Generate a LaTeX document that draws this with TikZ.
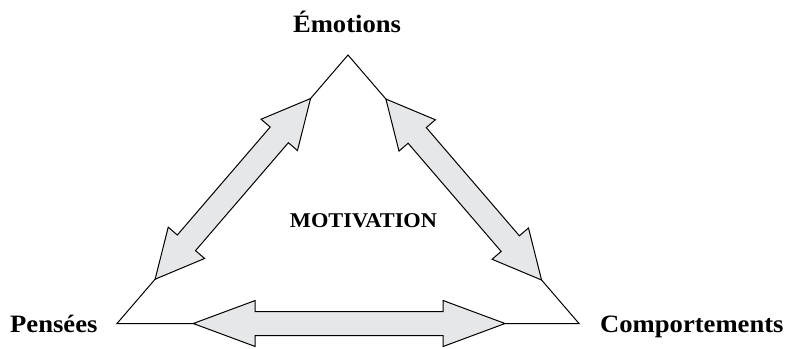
\documentclass[tikz,border=0pt]{standalone}
\usepackage{fontspec}
\setmainfont{Liberation Serif}[FakeStretch=1.065]
\usetikzlibrary{calc}
\definecolor{grisclair}{RGB}{230,231,232}
\tikzset{
  fleche/.style={draw=black, fill=grisclair, line width=1pt, line join=miter},
  sommet/.style={font=\fontsize{25}{30}\selectfont\bfseries, inner sep=0pt, anchor=base},
}
% double fleche: pointes #1 et #2, longueur tete #3, demi-largeur tete #4, demi-largeur corps #5
\newcommand{\dblfleche}[5]{%
  \draw[fleche] (#1)
    -- ($(#1)!#3!(#2)!#4!90:(#2)$) -- ($(#1)!#3!(#2)!#5!90:(#2)$)
    -- ($(#2)!#3!(#1)!#5!-90:(#1)$) -- ($(#2)!#3!(#1)!#4!-90:(#1)$)
    -- (#2)
    -- ($(#2)!#3!(#1)!#4!90:(#1)$) -- ($(#2)!#3!(#1)!#5!90:(#1)$)
    -- ($(#1)!#3!(#2)!#5!-90:(#2)$) -- ($(#1)!#3!(#2)!#4!-90:(#2)$)
    -- cycle;}
\begin{document}
\begin{tikzpicture}[x=1pt, y=-1pt]
\useasboundingbox (0,0) rectangle (789,348);
\coordinate (emo) at (348,55);
        \coordinate (pen) at (117,323.5);
        \coordinate (com) at (579,323.5);

        \coordinate (eg) at ($(emo)!0.162!(pen)$);
        \coordinate (ge) at ($(pen)!0.165!(emo)$);
        \coordinate (ed) at ($(emo)!0.164!(com)$);
        \coordinate (de) at ($(com)!0.162!(emo)$);
        \coordinate (gd) at ($(pen)!0.165!(com)$);
        \coordinate (dg) at ($(com)!0.16!(pen)$);

\draw[line width=1pt] (emo) -- (pen) -- (com) -- cycle;
\dblfleche{eg}{ge}{48pt}{24pt}{12pt}
\dblfleche{ed}{de}{48pt}{24pt}{12pt}
\dblfleche{gd}{dg}{62pt}{23pt}{12pt}

\node[sommet] (lemo) at (347,32) {Émotions};
\node[sommet, anchor=base west] (lpen) at (10,332.5) {Pensées};
\node[sommet, anchor=base west] (lcom) at (600,332.5) {Comportements};
\node[sommet, font=\fontsize{21}{25}\selectfont\bfseries] (mot) at (363.5,227) {MOTIVATION};
\end{tikzpicture}
\end{document}
